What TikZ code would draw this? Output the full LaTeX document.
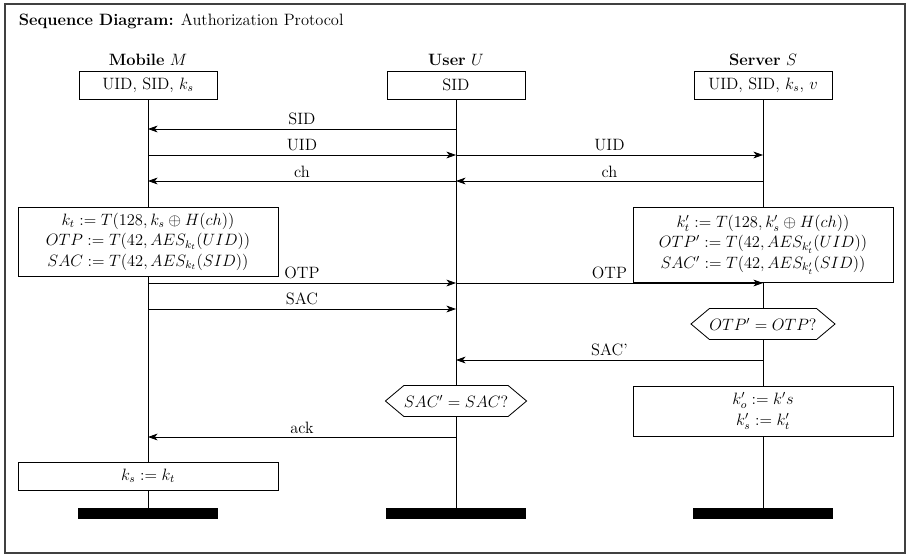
\documentclass[tikz,border=0pt]{standalone}
\usetikzlibrary{arrows.meta,shapes.symbols}
\begin{document}
\begin{tikzpicture}[x=0.73pt,y=-0.73pt,
  every node/.style={font=\fontsize{12}{15}\selectfont},
  hdr/.style={draw,fill=white,minimum width=100.7pt,minimum height=20.4pt,inner sep=0pt,line width=0.6pt},
  act/.style={draw,fill=white,minimum width=189.8pt,align=center,inner sep=0pt,line width=0.6pt},
  cond/.style={draw,fill=white,signal,signal to=west and east,signal pointer angle=80,minimum width=102pt,minimum height=22.6pt,inner sep=0pt,line width=0.6pt},
  endbar/.style={fill=black,minimum width=101.5pt,minimum height=8pt,inner sep=0pt},
  life/.style={line width=0.6pt},
  msg/.style={line width=0.6pt,-{Stealth[length=7pt,width=5pt,inset=2pt]}},
  lbl/.style={above,inner sep=2.5pt}
]
\useasboundingbox (0,0) rectangle (907,556);
\draw[black!75,line width=0.8pt] (5,4) rectangle (905,553);
\node[anchor=west] (title) at (14,21) {\textbf{Sequence Diagram:} Authorization Protocol};

% actor names
\node (Mn) at (148,60) {\textbf{Mobile} $M$};
\node (Un) at (456,60) {\textbf{User} $U$};
\node (Sn) at (763,60) {\textbf{Server} $S$};

% end bars
\node[endbar] (Mend) at (148,513.5) {};
\node[endbar] (Uend) at (456,513.5) {};
\node[endbar] (Send) at (763,513.5) {};

% header boxes
\node[hdr] (Mh) at (148,85) {UID, SID, $k_s$};
\node[hdr] (Uh) at (456,85) {SID};
\node[hdr] (Sh) at (763,85) {UID, SID, $k_s$, $v$};

% lifelines
\draw[life] (Mh.south) -- (Mend.north);
\draw[life] (Uh.south) -- (Uend.north);
\draw[life] (Sh.south) -- (Send.north);

% activity boxes
\node[act,minimum height=50.4pt] (Mcalc) at (148,241.5)
  {$k_t := T(128, k_s \oplus H(ch))$\\ $OTP := T(42, AES_{k_t}(UID))$\\ $SAC := T(42, AES_{k_t}(SID))$};
\node[act,minimum height=54.75pt] (Scalc) at (763,244.5)
  {$k'_t := T(128, k'_s \oplus H(ch))$\\ $OTP' := T(42, AES_{k'_t}(UID))$\\ $SAC' := T(42, AES_{k'_t}(SID))$};
\node[cond] (Scheck) at (763,324) {$OTP' = OTP?$};
\node[cond] (Ucheck) at (456,401) {$SAC' = SAC?$};
\node[act,minimum height=36.5pt] (Supd) at (763,411) {$k'_o := k's$\\ $k'_s := k'_t$};
\node[act,minimum height=20.4pt] (Mupd) at (148,476) {$k_s := k_t$};

% message end points
\coordinate (M1) at (148,129); \coordinate (U1) at (456,129);
\coordinate (M2) at (148,155); \coordinate (U2) at (456,155); \coordinate (S2) at (763,155);
\coordinate (M3) at (148,181); \coordinate (U3) at (456,181); \coordinate (S3) at (763,181);
\coordinate (M4) at (148,283); \coordinate (U4) at (456,283); \coordinate (S4) at (763,283);
\coordinate (M5) at (148,309); \coordinate (U5) at (456,309);
\coordinate (U6) at (456,360); \coordinate (S6) at (763,360);
\coordinate (M7) at (148,437); \coordinate (U7) at (456,437);

\draw[msg] (U1) -- node[lbl] {SID} (M1);
\draw[msg] (M2) -- node[lbl] {UID} (U2);
\draw[msg] (U2) -- node[lbl] {UID} (S2);
\draw[msg] (S3) -- node[lbl] {ch} (U3);
\draw[msg] (U3) -- node[lbl] {ch} (M3);
\draw[msg] (M4) -- node[lbl] {OTP} (U4);
\draw[msg] (U4) -- node[lbl] {OTP} (S4);
\draw[msg] (M5) -- node[lbl] {SAC} (U5);
\draw[msg] (S6) -- node[lbl] {SAC'} (U6);
\draw[msg] (U7) -- node[lbl] {ack} (M7);
\end{tikzpicture}
\end{document}
